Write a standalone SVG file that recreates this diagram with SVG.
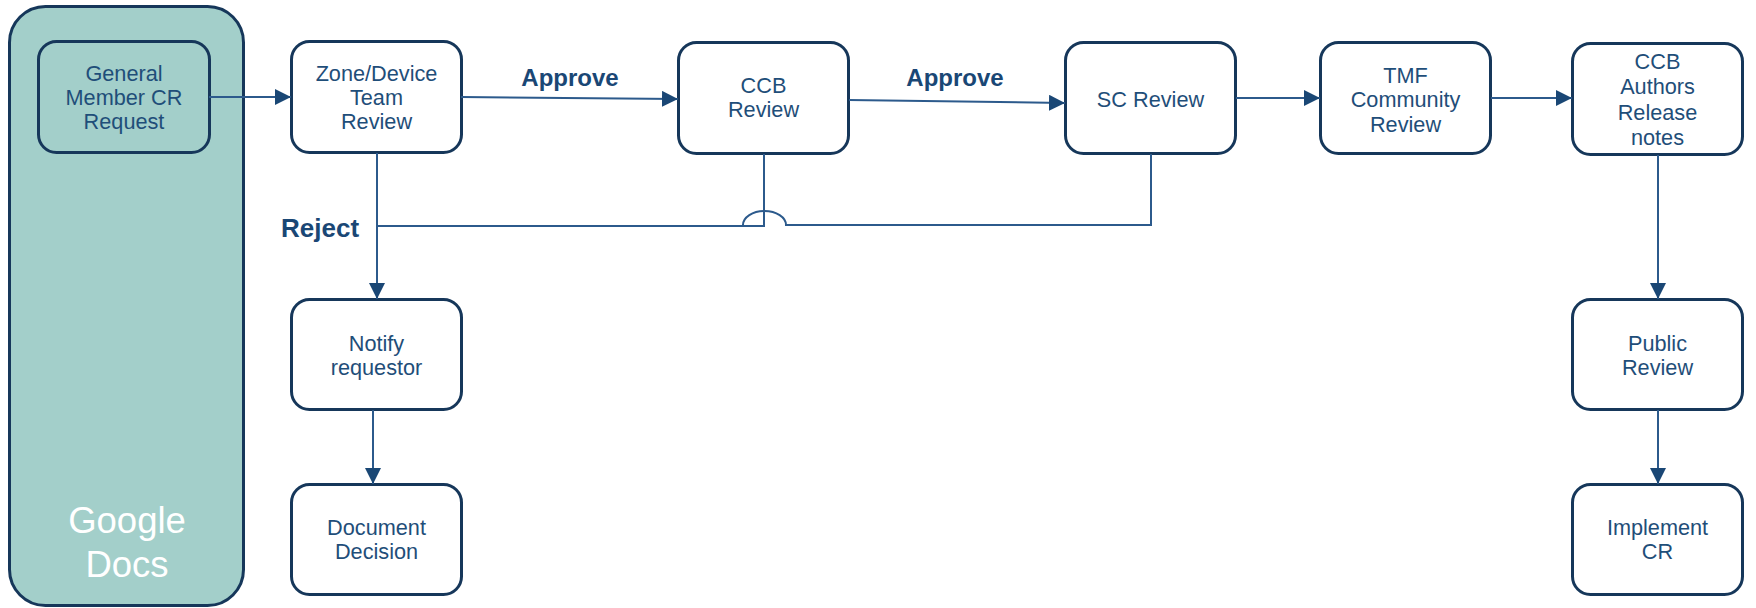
<svg xmlns="http://www.w3.org/2000/svg" width="1756" height="608" viewBox="0 0 1756 608">
<style>
.box{fill:#ffffff;stroke:#16375a;stroke-width:3}
.inner{fill:#a3cfca;stroke:#16375a;stroke-width:3}
.t{font-family:"Liberation Sans",Arial,sans-serif;font-size:21.7px;fill:#1f4e79;text-anchor:middle}
.lbl{font-family:"Liberation Sans",Arial,sans-serif;font-size:24px;font-weight:bold;fill:#1a4775}
.gd{font-family:"Liberation Sans",Arial,sans-serif;font-size:36.5px;fill:#ffffff;text-anchor:middle}
.c{fill:none;stroke:#2c5a8c;stroke-width:2}
</style>
<defs>
<marker id="ah" markerUnits="userSpaceOnUse" markerWidth="16" markerHeight="16" viewBox="0 0 16 16" refX="16" refY="8" orient="auto">
<path d="M0,0 L16,8 L0,16 Z" fill="#1a4775"/>
</marker>
</defs>
<g id="google-docs">
<rect x="9.5" y="6.5" width="234" height="599" rx="36" class="inner"/>
<text class="gd" x="127" y="533">Google</text>
<text class="gd" x="127" y="577">Docs</text>
</g>
<g id="general-member">
<rect x="38.5" y="41.5" width="171" height="111" rx="18" class="inner"/>
<text class="t" x="124" y="80.5">General</text>
<text class="t" x="124" y="104.5">Member CR</text>
<text class="t" x="124" y="128.5">Request</text>
</g>
<g id="zone-review">
<rect x="291.5" y="41.5" width="170" height="111" rx="18" class="box"/>
<text class="t" x="376.5" y="80.5">Zone/Device</text>
<text class="t" x="376.5" y="104.5">Team</text>
<text class="t" x="376.5" y="128.5">Review</text>
</g>
<g id="ccb-review">
<rect x="678.5" y="42.5" width="170" height="111" rx="18" class="box"/>
<text class="t" x="763.5" y="93">CCB</text>
<text class="t" x="763.5" y="117">Review</text>
</g>
<g id="sc-review">
<rect x="1065.5" y="42.5" width="170" height="111" rx="18" class="box"/>
<text class="t" x="1150.5" y="106.5">SC Review</text>
</g>
<g id="tmf-review">
<rect x="1320.5" y="42.5" width="170" height="111" rx="18" class="box"/>
<text class="t" x="1405.5" y="82.5">TMF</text>
<text class="t" x="1405.5" y="107">Community</text>
<text class="t" x="1405.5" y="131.5">Review</text>
</g>
<g id="ccb-authors">
<rect x="1572.5" y="43.5" width="170" height="111" rx="18" class="box"/>
<text class="t" x="1657.5" y="68.5">CCB</text>
<text class="t" x="1657.5" y="94">Authors</text>
<text class="t" x="1657.5" y="119.5">Release</text>
<text class="t" x="1657.5" y="145">notes</text>
</g>
<g id="notify">
<rect x="291.5" y="299.5" width="170" height="110" rx="18" class="box"/>
<text class="t" x="376.5" y="351">Notify</text>
<text class="t" x="376.5" y="375">requestor</text>
</g>
<g id="document">
<rect x="291.5" y="484.5" width="170" height="110" rx="18" class="box"/>
<text class="t" x="376.5" y="535">Document</text>
<text class="t" x="376.5" y="559">Decision</text>
</g>
<g id="public-review">
<rect x="1572.5" y="299.5" width="170" height="110" rx="18" class="box"/>
<text class="t" x="1657.5" y="351">Public</text>
<text class="t" x="1657.5" y="375">Review</text>
</g>
<g id="implement">
<rect x="1572.5" y="484.5" width="170" height="110" rx="18" class="box"/>
<text class="t" x="1657.5" y="535">Implement</text>
<text class="t" x="1657.5" y="559">CR</text>
</g>
<g id="connectors">
<line class="c" x1="209" y1="97" x2="291" y2="97" marker-end="url(#ah)"/>
<line class="c" x1="461" y1="97" x2="678" y2="99" marker-end="url(#ah)"/>
<line class="c" x1="849" y1="100" x2="1065" y2="103" marker-end="url(#ah)"/>
<line class="c" x1="1236" y1="98" x2="1320" y2="98" marker-end="url(#ah)"/>
<line class="c" x1="1491" y1="98" x2="1572" y2="98" marker-end="url(#ah)"/>
<line class="c" x1="377" y1="153" x2="377" y2="299" marker-end="url(#ah)"/>
<polyline class="c" points="377,226 764,226 764,154"/>
<path class="c" d="M1151,154 L1151,225 L786,225 A21.5 14 0 0 0 743 225"/>
<line class="c" x1="373" y1="410" x2="373" y2="484" marker-end="url(#ah)"/>
<line class="c" x1="1658" y1="155" x2="1658" y2="299" marker-end="url(#ah)"/>
<line class="c" x1="1658" y1="410" x2="1658" y2="484" marker-end="url(#ah)"/>
<text class="lbl" x="570" y="86" text-anchor="middle">Approve</text>
<text class="lbl" x="955" y="86" text-anchor="middle">Approve</text>
<text class="lbl" x="281" y="237" style="font-size:26px">Reject</text>
</g>
</svg>
